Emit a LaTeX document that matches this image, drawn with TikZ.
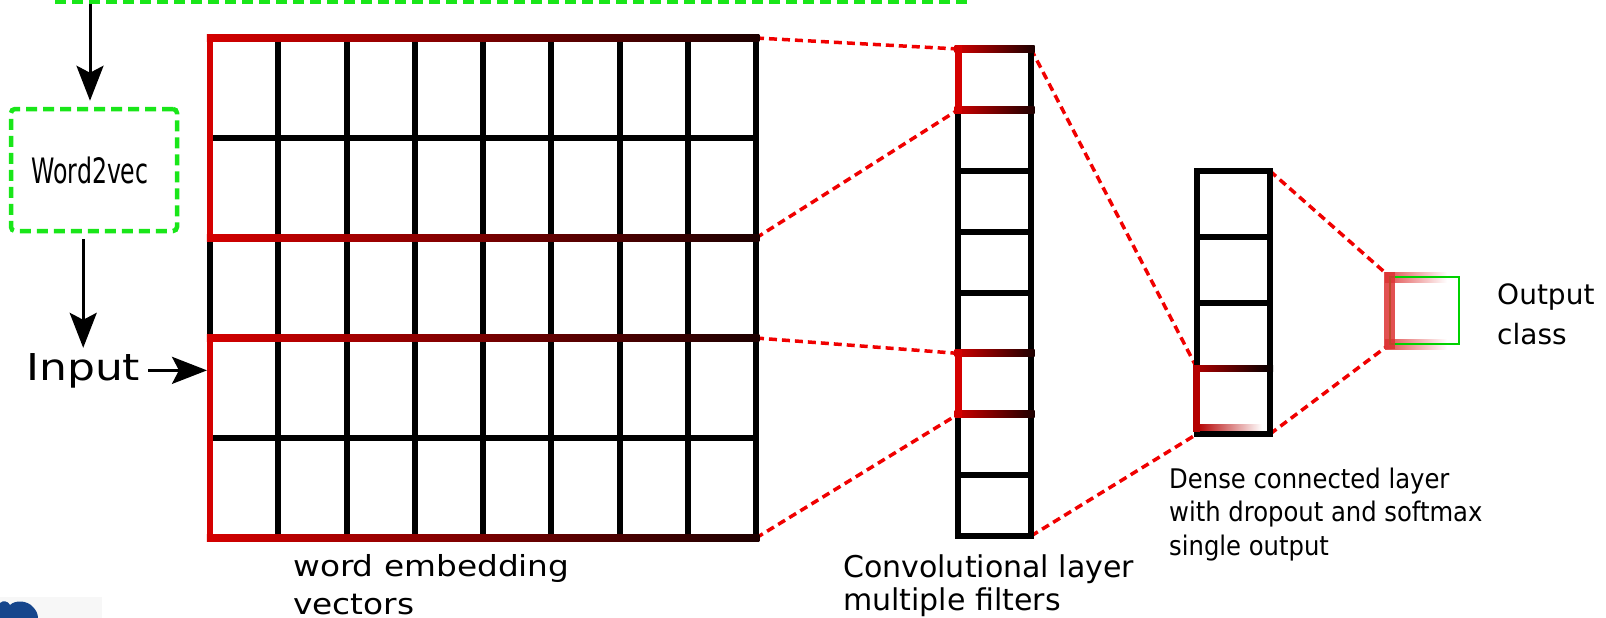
\documentclass[tikz,border=0pt]{standalone}
\usepackage{fontspec}
\usepackage{graphicx}
\usetikzlibrary{arrows.meta,calc}
\setmainfont{DejaVu Sans}
\newfontfamily\lblfont{DejaVu Sans}
\newfontfamily\lblwide[FakeStretch=1.13]{DejaVu Sans}
\newfontfamily\lblwider[FakeStretch=1.19]{DejaVu Sans}
\newfontfamily\condfont{DejaVu Sans Condensed}
\newfontfamily\condnarrow[FakeStretch=0.75]{DejaVu Sans Condensed}

\definecolor{hlred}{RGB}{212,0,0}
\definecolor{hldark}{RGB}{28,0,0}
\definecolor{linkred}{RGB}{240,0,0}
\definecolor{boxgreen}{RGB}{25,230,25}
\definecolor{outgreen}{RGB}{0,210,0}
\definecolor{logoblue}{RGB}{22,70,140}

% red frame with gradient edges around a highlighted block (node, half line width)
\newcommand\markband[2]{%
  \shade[left color=hlred, right color=hldark] ($(#1.north west)+(-#2,-#2)$) rectangle ($(#1.north east)+(#2,#2)$);
  \shade[left color=hlred, right color=hldark] ($(#1.south west)+(-#2,-#2)$) rectangle ($(#1.south east)+(#2,#2)$);
  \fill[hlred] ($(#1.north west)+(-#2,-#2)$) rectangle ($(#1.south west)+(#2,#2)$);
}

\tikzset{
  layer/.style={draw=none, inner sep=0pt, outer sep=0pt, anchor=north west},
  cellline/.style={line width=6pt, black},
  link/.style={linkred, line width=3.5pt, dash pattern=on 8pt off 5pt},
  greendash/.style={draw=boxgreen, line width=4.5pt, dash pattern=on 11pt off 6pt},
  arr/.style={line width=3pt, -{Stealth[length=35pt,width=27pt,inset=7pt]}},
  txt/.style={anchor=base west, inner sep=0pt, align=left},
}

\begin{document}
\begin{tikzpicture}[x=1pt,y=-1pt]
\useasboundingbox (0,0) rectangle (1606,618);

% blocks of the network
\node[layer, minimum width=546pt, minimum height=500pt] (emb) at (210,38) {};
\node[layer, minimum width=546pt, minimum height=200pt] (embA) at (210,38) {};
\node[layer, minimum width=546pt, minimum height=200pt] (embB) at (210,338) {};
\node[layer, minimum width=73pt, minimum height=487pt] (conv) at (958,49) {};
\node[layer, minimum width=73pt, minimum height=60.875pt] (convA) at (958,49) {};
\node[layer, minimum width=73pt, minimum height=60.875pt] (convB) at (958,353.375) {};
\node[layer, minimum width=73pt, minimum height=263pt] (dense) at (1197,171) {};
\node[layer, minimum width=73pt, minimum height=65.75pt] (denseA) at (1197,368.25) {};
\node[layer, minimum width=69pt, minimum height=67pt] (out) at (1390,277) {};

% dashed projections between layers
\draw[link] (embA.north east) -- (convA.north west);
\draw[link] (embA.south east) -- (convA.south west);
\draw[link] (embB.north east) -- (convB.north west);
\draw[link] (embB.south east) -- (convB.south west);
\draw[link] (conv.north east) -- (denseA.north west);
\draw[link] (conv.south east) -- (dense.south west);
\draw[link] (dense.north east) -- (out.north west);
\draw[link] (dense.south east) -- (out.south west);

% embedding matrix
\foreach \i in {1,...,7}
  \draw[cellline] ($(emb.north west)+(\i*68.25,0)$) -- ($(emb.south west)+(\i*68.25,0)$);
\foreach \j in {1,...,4}
  \draw[cellline] ($(emb.north west)+(0,\j*100)$) -- ($(emb.north east)+(0,\j*100)$);
\draw[cellline, line width=6.5pt] (emb.north west) rectangle (emb.south east);
\markband{embA}{3.25}
\markband{embB}{3.25}

% convolution column
\foreach \j in {1,...,7}
  \draw[cellline] ($(conv.north west)+(0,\j*60.875)$) -- ($(conv.north east)+(0,\j*60.875)$);
\draw[cellline] (conv.north west) rectangle (conv.south east);
\markband{convA}{3.5}
\markband{convB}{3.5}

% dense column
\foreach \j in {1,...,3}
  \draw[cellline] ($(dense.north west)+(0,\j*65.75)$) -- ($(dense.north east)+(0,\j*65.75)$);
\draw[cellline] (dense.north west) rectangle (dense.south east);
\shade[left color=hlred!85!black, right color=black] ($(denseA.north west)+(-4,-3)$) rectangle ($(denseA.north east)+(3,3)$);
\shade[left color=hlred!85!black, right color=white] ($(denseA.south west)+(0,-10)$) rectangle ($(denseA.south east)+(-8,-4)$);
\fill[hlred!85!black] ($(denseA.north west)+(-4,-3)$) rectangle ($(denseA.south west)+(3,-2)$);

% output unit
\shade[left color=hlred!70, right color=white] ($(out.north west)+(-5,-5)$) rectangle ($(out.north east)+(-12,5)$);
\shade[left color=hlred!70, right color=white] ($(out.south west)+(-5,-5)$) rectangle ($(out.south east)+(-12,5)$);
\draw[outgreen, line width=2pt] (out.north west) rectangle (out.south east);
\fill[hlred!80, opacity=0.85] ($(out.north west)+(-6,-5)$) rectangle ($(out.south west)+(5,5)$);

% word2vec stage
\draw[greendash] (55,2) -- (968,2);
\coordinate (feed) at (90,4);
\node[greendash, rounded corners=4pt, minimum width=166pt, minimum height=122pt, inner sep=0pt,
      font=\condnarrow\fontsize{35}{40}\selectfont] (w2v) at (94,170) {Word2vec\kern8pt};
\node[txt, font=\lblwider\fontsize{37}{44}\selectfont] (inp) at (26,380) {Input};
\draw[arr, shorten >=6pt] (feed) -- (feed |- w2v.north);
\draw[arr, shorten <=6pt, shorten >=5pt] (w2v.south -| inp.north) -- (inp.north);
\draw[arr, shorten <=8pt, shorten >=3pt] (inp.east) -- (inp.east -| emb.west);

% captions (base anchor sits on the last line)
\node[txt, font=\lblwide\fontsize{29}{38}\selectfont] (embl) at (293,614) {word embedding\\vectors};
\node[txt, font=\lblfont\fontsize{30}{33}\selectfont] (convl) at (843,610) {Convolutional layer\\multiple filters};
\node[txt, font=\condfont\fontsize{27}{33.5}\selectfont] (densel) at (1169,555) {Dense connected layer\\with dropout and softmax\\single output};
\node[txt, font=\lblfont\fontsize{28}{40}\selectfont] (outl) at (1497,344) {Output\\class};

% logo corner
\fill[gray!6] (0,597) rectangle (102,618);
\fill[logoblue] (0,603) .. controls (3,600) and (8,601) .. (10,605)
  .. controls (15,600) and (27,600) .. (33,607)
  .. controls (36,610) and (38,614) .. (38,618) -- (0,618) -- cycle;
\end{tikzpicture}
\end{document}
